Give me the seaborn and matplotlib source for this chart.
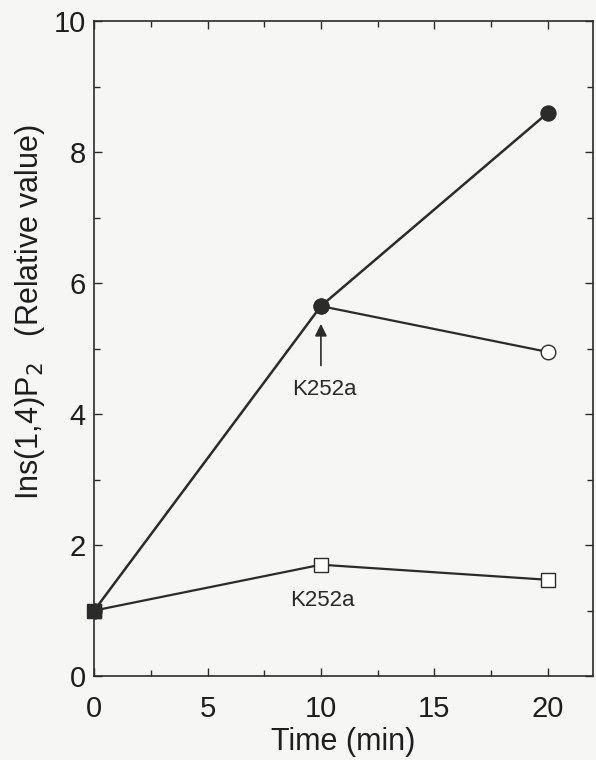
import matplotlib
matplotlib.use("Agg")
import matplotlib.pyplot as plt
import seaborn as sns
import pandas as pd
from matplotlib.ticker import MultipleLocator

# Data
time_control = [0, 10, 20]
ins_control = [1.0, 5.65, 8.6]

time_k252a_late = [10, 20]
ins_k252a_late = [5.65, 4.95]

time_k252a_early = [0, 10, 20]
ins_k252a_early = [1.0, 1.7, 1.47]

sns.set_style("ticks")
plt.rcParams['font.family'] = ['Liberation Sans', 'DejaVu Sans']

fig = plt.figure(figsize=(5.96, 7.6), dpi=100)
bg = "#f6f6f4"
fig.patch.set_facecolor(bg)
ax = fig.add_axes([0.158, 0.1105, 0.837, 0.8615])
ax.set_facecolor(bg)

ink = "#2b2b2b"
txt = "#1e1e1e"

df_c = pd.DataFrame({"t": time_control, "v": ins_control})
df_l = pd.DataFrame({"t": time_k252a_late, "v": ins_k252a_late})
df_e = pd.DataFrame({"t": time_k252a_early, "v": ins_k252a_early})

sns.lineplot(data=df_e, x="t", y="v", ax=ax, color=ink, lw=1.6, marker="s",
             markersize=10.5, markerfacecolor="white", markeredgecolor=ink,
             markeredgewidth=1.0, zorder=2)
sns.lineplot(data=df_l, x="t", y="v", ax=ax, color=ink, lw=1.6, marker="o",
             markersize=10.5, markerfacecolor="white", markeredgecolor=ink,
             markeredgewidth=1.0, zorder=2)
sns.lineplot(data=df_c, x="t", y="v", ax=ax, color=ink, lw=1.8, marker="o",
             markersize=11, markerfacecolor=ink, markeredgecolor=ink, zorder=3)
# filled square at the shared starting point
ax.plot([time_k252a_early[0]], [ins_k252a_early[0]], marker="s", ms=10.5,
        color=ink, zorder=4, clip_on=False)

ax.set_xlim(0, 22)
ax.set_ylim(0, 10)
ax.xaxis.set_major_locator(MultipleLocator(5))
ax.xaxis.set_minor_locator(MultipleLocator(2.5))
ax.yaxis.set_major_locator(MultipleLocator(2))
ax.yaxis.set_minor_locator(MultipleLocator(1))
ax.tick_params(which="both", direction="in", top=True, right=True,
               color=ink, width=1.0)
ax.tick_params(which="major", length=6, labelsize=21, labelcolor=txt)
ax.tick_params(axis="x", which="major", pad=14)
ax.tick_params(axis="y", which="major", pad=6)
ax.tick_params(which="minor", length=4)
for s in ax.spines.values():
    s.set_color(ink)
    s.set_linewidth(1.2)

ax.set_xlabel("Time (min)", fontsize=22, color=txt)
ax.xaxis.set_label_coords(0.5, -0.101)
ax.xaxis.label.set_va("center")
ax.set_ylabel(r"Ins(1,4)P$_2$   (Relative value)", fontsize=22, color=txt)
ax.yaxis.set_label_coords(-0.128, 0.556)
ax.yaxis.label.set_va("center")

ax.annotate("", xy=(10, 5.42), xytext=(10, 4.7),
            arrowprops=dict(arrowstyle="-|>", color=ink, lw=1.2,
                            mutation_scale=18))
ax.text(10.15, 4.38, "K252a", ha="center", va="center", fontsize=16, color="#2a2a2a")
ax.text(10.05, 1.16, "K252a", ha="center", va="center", fontsize=16, color="#2a2a2a")

fig.savefig("out.png", dpi=100, facecolor=bg)
